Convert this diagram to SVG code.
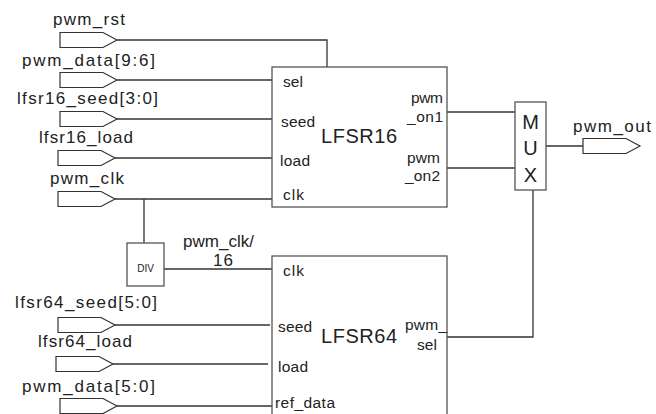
<svg xmlns="http://www.w3.org/2000/svg" width="656" height="414" viewBox="0 0 656 414">
  <style>
    .bg { fill: #ffffff; }
    .wire { fill: none; stroke: #333333; stroke-width: 1.3; }
    .box { fill: #ffffff; stroke: #555555; stroke-width: 1.3; }
    .pin { fill: #ffffff; stroke: #333333; stroke-width: 1.2; }
    text { font-family: "Liberation Sans", Arial, sans-serif; fill: #222222; }
    .sig { font-size: 17px; }
    .port { font-size: 15.5px; }
    .title { font-size: 20px; }
    .mux { font-size: 20px; text-anchor: middle; }
    .small { font-size: 10px; text-anchor: middle; }
  </style>
  <defs>
    <!-- port symbol: flag with a pointed right end -->
    <path id="pin" class="pin" d="M0,-7.5 h43 l14,7.5 l-14,7.5 h-43 z"/>
  </defs>
  <rect class="bg" width="656" height="414"/>

  <!-- wires -->
  <g id="connectors">
    <path class="wire" d="M117,40 H327 V67"/>
    <path class="wire" d="M117,80 H272"/>
    <path class="wire" d="M117,119 H272"/>
    <path class="wire" d="M115,158 H272"/>
    <path class="wire" d="M115,199 H272"/>
    <path class="wire" d="M144,199 V243"/>
    <path class="wire" d="M164,269 H272"/>
    <path class="wire" d="M115,325 H270"/>
    <path class="wire" d="M113,364 H268"/>
    <path class="wire" d="M117,406 H272"/>
    <path class="wire" d="M447,112 H515"/>
    <path class="wire" d="M447,168 H515"/>
    <path class="wire" d="M546,146 H583"/>
    <path class="wire" d="M447,337 H533 V190"/>
  </g>

  <!-- input / output ports -->
  <g id="in_pwm_rst">
    <use href="#pin" x="60" y="40"/>
    <text class="sig" x="53" y="25" textLength="72" lengthAdjust="spacing">pwm_rst</text>
  </g>
  <g id="in_pwm_data_hi">
    <use href="#pin" x="60" y="80"/>
    <text class="sig" x="22" y="66" textLength="133" lengthAdjust="spacing">pwm_data[9:6]</text>
  </g>
  <g id="in_lfsr16_seed">
    <use href="#pin" x="60" y="119"/>
    <text class="sig" x="17" y="104" textLength="141" lengthAdjust="spacing">lfsr16_seed[3:0]</text>
  </g>
  <g id="in_lfsr16_load">
    <use href="#pin" x="58" y="158"/>
    <text class="sig" x="39" y="143" textLength="94" lengthAdjust="spacing">lfsr16_load</text>
  </g>
  <g id="in_pwm_clk">
    <use href="#pin" x="58" y="199"/>
    <text class="sig" x="50" y="184" textLength="74" lengthAdjust="spacing">pwm_clk</text>
  </g>
  <g id="in_lfsr64_seed">
    <use href="#pin" x="58" y="325"/>
    <text class="sig" x="15" y="308" textLength="142" lengthAdjust="spacing">lfsr64_seed[5:0]</text>
  </g>
  <g id="in_lfsr64_load">
    <use href="#pin" x="56" y="364"/>
    <text class="sig" x="38" y="347" textLength="94" lengthAdjust="spacing">lfsr64_load</text>
  </g>
  <g id="in_pwm_data_lo">
    <use href="#pin" x="60" y="406"/>
    <text class="sig" x="22" y="392" textLength="133" lengthAdjust="spacing">pwm_data[5:0]</text>
  </g>
  <g id="out_pwm_out">
    <use href="#pin" x="583" y="146"/>
    <text class="sig" x="573" y="132" textLength="78" lengthAdjust="spacing">pwm_out</text>
  </g>

  <!-- clock divider -->
  <g id="div">
    <rect class="box" x="127" y="243" width="37" height="43"/>
    <text class="small" x="145.5" y="272">DIV</text>
    <text class="sig" x="183" y="247" textLength="71" lengthAdjust="spacing">pwm_clk/</text>
    <text class="sig" x="213" y="266" textLength="20" lengthAdjust="spacing">16</text>
  </g>

  <!-- 16-bit LFSR -->
  <g id="lfsr16">
    <rect class="box" x="272" y="67" width="175" height="140"/>
    <text class="port" x="283" y="87" textLength="20" lengthAdjust="spacing">sel</text>
    <text class="port" x="281" y="127" textLength="34" lengthAdjust="spacing">seed</text>
    <text class="port" x="280" y="166" textLength="30" lengthAdjust="spacing">load</text>
    <text class="port" x="283" y="200" textLength="21" lengthAdjust="spacing">clk</text>
    <text class="title" x="321" y="143" textLength="76" lengthAdjust="spacing">LFSR16</text>
    <text class="port" x="411" y="103" textLength="32" lengthAdjust="spacing">pwm</text>
    <text class="port" x="407" y="122" textLength="36" lengthAdjust="spacing">_on1</text>
    <text class="port" x="407" y="163" textLength="33" lengthAdjust="spacing">pwm</text>
    <text class="port" x="405" y="181" textLength="35" lengthAdjust="spacing">_on2</text>
  </g>

  <!-- 64-bit LFSR -->
  <g id="lfsr64">
    <rect class="box" x="272" y="256" width="175" height="170"/>
    <text class="port" x="283" y="276" textLength="21" lengthAdjust="spacing">clk</text>
    <text class="port" x="278" y="332" textLength="34" lengthAdjust="spacing">seed</text>
    <text class="port" x="278" y="372" textLength="30" lengthAdjust="spacing">load</text>
    <text class="port" x="275" y="408" textLength="60" lengthAdjust="spacing">ref_data</text>
    <text class="title" x="321" y="343" textLength="76" lengthAdjust="spacing">LFSR64</text>
    <text class="port" x="405" y="330" textLength="42" lengthAdjust="spacing">pwm_</text>
    <text class="port" x="417" y="350" textLength="20" lengthAdjust="spacing">sel</text>
  </g>

  <!-- output multiplexer -->
  <g id="mux">
    <rect class="box" x="515" y="102" width="31" height="88"/>
    <text class="mux" x="530.5" y="129">M</text>
    <text class="mux" x="530.5" y="155">U</text>
    <text class="mux" x="530.5" y="182">X</text>
  </g>
</svg>
